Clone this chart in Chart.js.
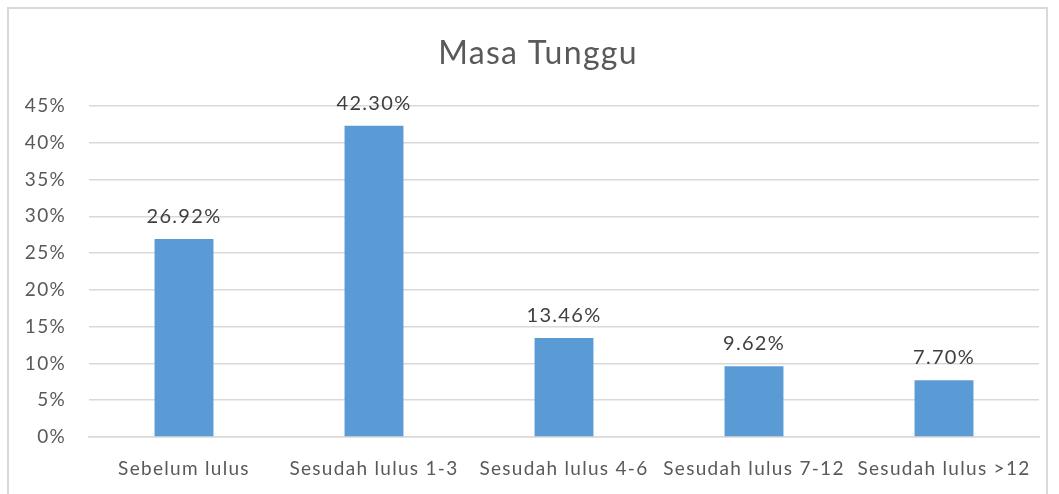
<!DOCTYPE html>
<html>
<head>
<meta charset="utf-8">
<script src="https://cdn.jsdelivr.net/npm/chart.js@4.4.1/dist/chart.umd.min.js"></script>
<style>
    html, body { margin: 0; padding: 0; background: #fff; }
    #wrap { position: relative; width: 1059px; height: 494px; overflow: hidden; }
    #frame { position: absolute; left: 7px; top: 7px; width: 1041px; height: 520px; border: 2px solid #d9d9d9; box-sizing: border-box; pointer-events: none; }
    canvas { position: absolute; left: 0; top: 0; }
</style>
</head>
<body>
<div id="wrap">
    <canvas id="chart-masa" width="1059" height="494"></canvas>
    <div id="frame"></div>
</div>
<script>
// ── Datos ─────────────────────────────────────────────
var categorias = ['Sebelum lulus', 'Sesudah lulus 1-3', 'Sesudah lulus 4-6', 'Sesudah lulus 7-12', 'Sesudah lulus >12'];
var valores    = [26.92, 42.30, 13.46, 9.62, 7.70];
var etiquetas  = ['26.92%', '42.30%', '13.46%', '9.62%', '7.70%'];
var tituloTxt  = 'Masa Tunggu';

var FONT = 'Lato, "Open Sans", sans-serif';
var SPACING = '1.3px';   // el original tiene letras más separadas

// espaciado de letras para todo el canvas
var spacingPlugin = {
    id: 'espaciado',
    beforeUpdate: function(chart) { chart.ctx.letterSpacing = SPACING; },
    beforeDraw: function(chart) { chart.ctx.letterSpacing = SPACING; }
};

// etiquetas encima de cada barra
var labelsPlugin = {
    id: 'barLabels',
    afterDatasetsDraw: function(chart) {
        var ctx = chart.ctx;
        var meta = chart.getDatasetMeta(0);
        ctx.save();
        ctx.letterSpacing = SPACING;
        ctx.font = '20px ' + FONT;
        ctx.fillStyle = '#404040';
        ctx.textAlign = 'center';
        ctx.textBaseline = 'alphabetic';
        meta.data.forEach(function(bar, i) {
            ctx.fillText(etiquetas[i], bar.x, bar.y - 16);
        });
        ctx.restore();
    }
};

// título centrado en el marco
var titlePlugin = {
    id: 'tituloMasa',
    afterDraw: function(chart) {
        var ctx = chart.ctx;
        ctx.save();
        ctx.letterSpacing = SPACING;
        ctx.font = '32px ' + FONT;
        ctx.fillStyle = '#595959';
        ctx.textAlign = 'center';
        ctx.textBaseline = 'alphabetic';
        ctx.fillText(tituloTxt, 538, 64);
        ctx.restore();
    }
};

new Chart(document.getElementById('chart-masa'), {
    type: 'bar',
    data: {
        labels: categorias,
        datasets: [{
            data: valores,
            backgroundColor: '#5b9bd5',
            borderWidth: 0,
            categoryPercentage: 1,
            barPercentage: 0.31
        }]
    },
    options: {
        responsive: false,
        animation: false,
        layout: { padding: { top: 106, right: 20, bottom: 0, left: 0 } },
        plugins: {
            legend: { display: false },
            title: { display: false },
            tooltip: { enabled: false }
        },
        scales: {
            x: {
                grid: { display: false, drawTicks: false },
                border: { display: true, color: '#d9d9d9', width: 1.5 },
                ticks: { color: '#595959', font: { family: FONT, size: 19 }, padding: 20, maxRotation: 0, autoSkip: false },
                afterFit: function(scale) { scale.height = 57; }
            },
            y: {
                min: 0,
                max: 45,
                grid: { color: '#d9d9d9', lineWidth: 1.5, drawTicks: false },
                border: { display: false },
                ticks: {
                    stepSize: 5,
                    color: '#595959',
                    font: { family: FONT, size: 19 },
                    padding: 23,
                    callback: function(v) { return v + '%'; }
                },
                afterFit: function(scale) { scale.width = 89; }
            }
        }
    },
    plugins: [spacingPlugin, labelsPlugin, titlePlugin]
});
</script>
</body>
</html>
